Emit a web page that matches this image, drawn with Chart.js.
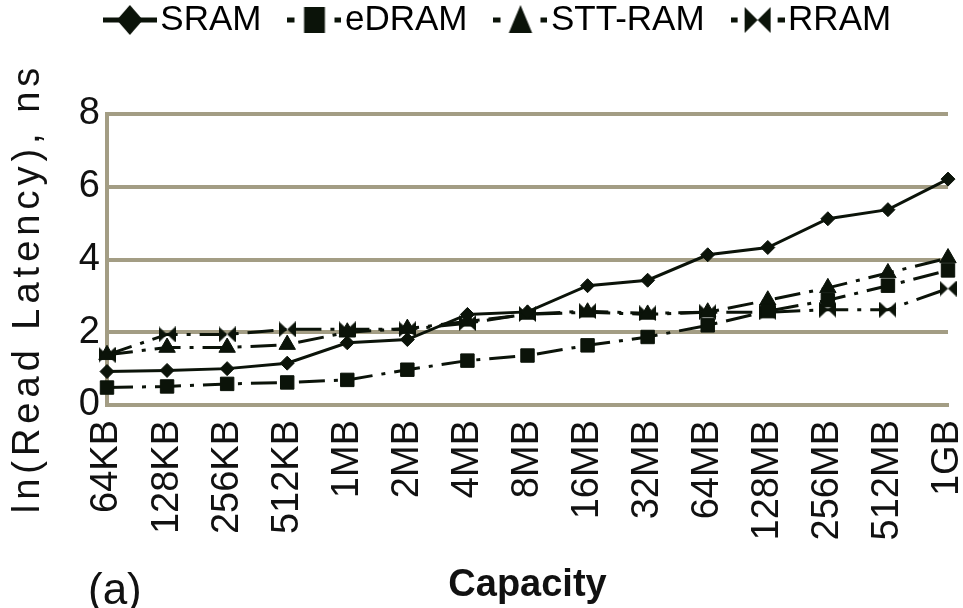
<!DOCTYPE html>
<html>
<head>
<meta charset="utf-8">
<script src="https://cdn.jsdelivr.net/npm/chart.js@4.4.1/dist/chart.umd.min.js"></script>
<style>
  html, body { margin: 0; padding: 0; background: #fff; }
  #wrap { width: 963px; height: 608px; }
</style>
</head>
<body>
<div id="wrap"><canvas id="latencyChart" width="963" height="608"></canvas></div>
<script>
'use strict';

const capacities = ['64KB', '128KB', '256KB', '512KB', '1MB', '2MB', '4MB', '8MB',
  '16MB', '32MB', '64MB', '128MB', '256MB', '512MB', '1GB'];
const sramLatency   = [0.92, 0.95, 1.00, 1.15, 1.71, 1.80, 2.49, 2.56, 3.28, 3.43, 4.13, 4.33, 5.12, 5.37, 6.21];
const edramLatency  = [0.48, 0.51, 0.58, 0.62, 0.69, 0.97, 1.22, 1.36, 1.64, 1.87, 2.19, 2.58, 2.88, 3.28, 3.70];
const sttramLatency = [1.38, 1.58, 1.58, 1.66, 2.00, 2.10, 2.30, 2.49, 2.55, 2.49, 2.55, 2.88, 3.22, 3.63, 4.04];
const rramLatency   = [1.38, 1.94, 1.94, 2.08, 2.08, 2.08, 2.25, 2.50, 2.58, 2.52, 2.55, 2.55, 2.62, 2.62, 3.20];
const yTicks = [0, 2, 4, 6, 8];

const INK  = '#0b1309';
const GRID = '#a39d84';
const TEXT = '#111111';
const FONT = "'Liberation Sans', Arial, sans-serif";
const DASH = [26, 9, 4, 9];

// little canvases used as point styles
function makeCanvas(w, h) {
  const c = document.createElement('canvas');
  c.width = w; c.height = h;
  return c;
}

function drawMarker(g, kind, cx, cy, s) {
  g.fillStyle = INK;
  g.beginPath();
  if (kind === 'diamond') {
    g.moveTo(cx, cy - s * 1.15); g.lineTo(cx + s, cy); g.lineTo(cx, cy + s * 1.15); g.lineTo(cx - s, cy);
  } else if (kind === 'square') {
    g.rect(cx - s * 0.8, cy - s, s * 1.6, s * 2);
  } else if (kind === 'triangle') {
    g.moveTo(cx, cy - s * 1.15); g.lineTo(cx + s * 0.9, cy + s); g.lineTo(cx - s * 0.9, cy + s);
  } else {
    g.moveTo(cx - s, cy - s); g.lineTo(cx, cy); g.lineTo(cx + s, cy - s);
    g.lineTo(cx + s, cy + s); g.lineTo(cx, cy); g.lineTo(cx - s, cy + s);
  }
  g.closePath();
  g.fill();
}

function bowtie(w, h) {
  const c = makeCanvas(w, h);
  const g = c.getContext('2d');
  g.fillStyle = INK;
  g.beginPath();
  g.moveTo(0, 0); g.lineTo(w / 2, h / 2); g.lineTo(w, 0);
  g.lineTo(w, h); g.lineTo(w / 2, h / 2); g.lineTo(0, h);
  g.closePath();
  g.fill();
  return c;
}

function legendIcon(kind, solid) {
  const w = 54, h = 32, c = makeCanvas(w, h);
  const g = c.getContext('2d');
  g.strokeStyle = INK;
  g.lineWidth = 5;
  g.beginPath();
  if (solid) {
    g.moveTo(0, h / 2); g.lineTo(w, h / 2);
  } else {
    g.moveTo(0, h / 2); g.lineTo(7, h / 2);
    g.moveTo(w - 7, h / 2); g.lineTo(w, h / 2);
  }
  g.stroke();
  drawMarker(g, kind, w / 2, h / 2, 13);
  return c;
}

const legendIcons = [
  legendIcon('diamond', true),
  legendIcon('square', false),
  legendIcon('triangle', false),
  legendIcon('bowtie', false),
];

function series(label, data, style, radius, dashed) {
  return {
    label, data,
    borderColor: INK,
    backgroundColor: INK,
    borderWidth: 3,
    borderDash: dashed ? DASH : [],
    pointStyle: style,
    pointRadius: radius,
    pointBackgroundColor: INK,
    pointBorderColor: INK,
    pointBorderWidth: 1,
    tension: 0,
    clip: false,
  };
}

const tweaks = {
  id: 'tweaks',
  afterLayout(chart) {
    // legend sits higher and a bit to the right, as in the figure
    const lg = chart.legend;
    const dy = 22 - (lg.top + 42 + 17.5);
    lg.top += dy; lg.bottom += dy;
    lg.left += 30; lg.right += 30;

    // spaced-out y title, centred a bit lower than the plot
    const y = chart.scales.y;
    if (!y._spaced) {
      const orig = y.drawTitle;
      y.drawTitle = function () {
        const c = this.ctx, t = this.top, b = this.bottom;
        this.top = 28; this.bottom = 548;
        c.save();
        c.letterSpacing = '5px';
        orig.call(this);
        c.restore();
        this.top = t; this.bottom = b;
      };
      y._spaced = true;
    }
  },
  afterDraw(chart) {
    const c = chart.ctx;
    c.save();
    c.font = '44px ' + FONT;
    c.fillStyle = TEXT;
    c.textBaseline = 'alphabetic';
    c.fillText('(a)', 88, 604);
    c.restore();
  },
};

new Chart(document.getElementById('latencyChart'), {
  type: 'line',
  data: {
    labels: capacities,
    datasets: [
      series('SRAM', sramLatency, 'rectRot', 7, false),
      series('eDRAM', edramLatency, 'rect', 9.5, true),
      series('STT-RAM', sttramLatency, 'triangle', 9.5, true),
      series('RRAM', rramLatency, bowtie(17, 16), 8, true),
    ],
  },
  options: {
    responsive: false,
    animation: false,
    devicePixelRatio: 1,
    layout: { padding: { top: 29, right: 15, bottom: 0, left: 0 } },
    plugins: {
      tooltip: { enabled: false },
      legend: {
        position: 'top',
        labels: {
          usePointStyle: true,
          pointStyleWidth: 26,
          padding: 40,
          color: TEXT,
          font: { family: FONT, size: 35 },
          generateLabels: (chart) => chart.data.datasets.map((ds, i) => ({
            text: ds.label,
            pointStyle: legendIcons[i],
            fillStyle: INK,
            strokeStyle: INK,
            lineWidth: 0,
            hidden: false,
            datasetIndex: i,
          })),
        },
      },
    },
    scales: {
      x: {
        offset: false,
        grid: { display: false },
        border: { display: true, color: GRID, width: 4 },
        ticks: {
          autoSkip: false,
          minRotation: 90,
          maxRotation: 90,
          padding: 7,
          color: TEXT,
          font: { family: FONT, size: 38 },
        },
        title: {
          display: true,
          text: 'Capacity',
          color: TEXT,
          padding: { top: 0, bottom: 0 },
          font: { family: FONT, size: 38, weight: 'bold' },
        },
        afterFit: (scale) => {
          scale.height = 203;
          scale.paddingLeft = 0;
          scale.paddingRight = 0;
        },
      },
      y: {
        min: 0,
        max: 8,
        afterBuildTicks: (scale) => { scale.ticks = yTicks.map((v) => ({ value: v })); },
        grid: { color: GRID, lineWidth: 4, drawTicks: false },
        border: { display: true, color: GRID, width: 4 },
        ticks: {
          padding: 7,
          color: TEXT,
          font: { family: FONT, size: 38 },
        },
        title: {
          display: true,
          text: 'ln(Read Latency), ns',
          color: TEXT,
          padding: { top: 6, bottom: 0 },
          font: { family: FONT, size: 38 },
        },
        afterFit: (scale) => { scale.width = 107; },
      },
    },
  },
  plugins: [tweaks],
});
</script>
</body>
</html>
